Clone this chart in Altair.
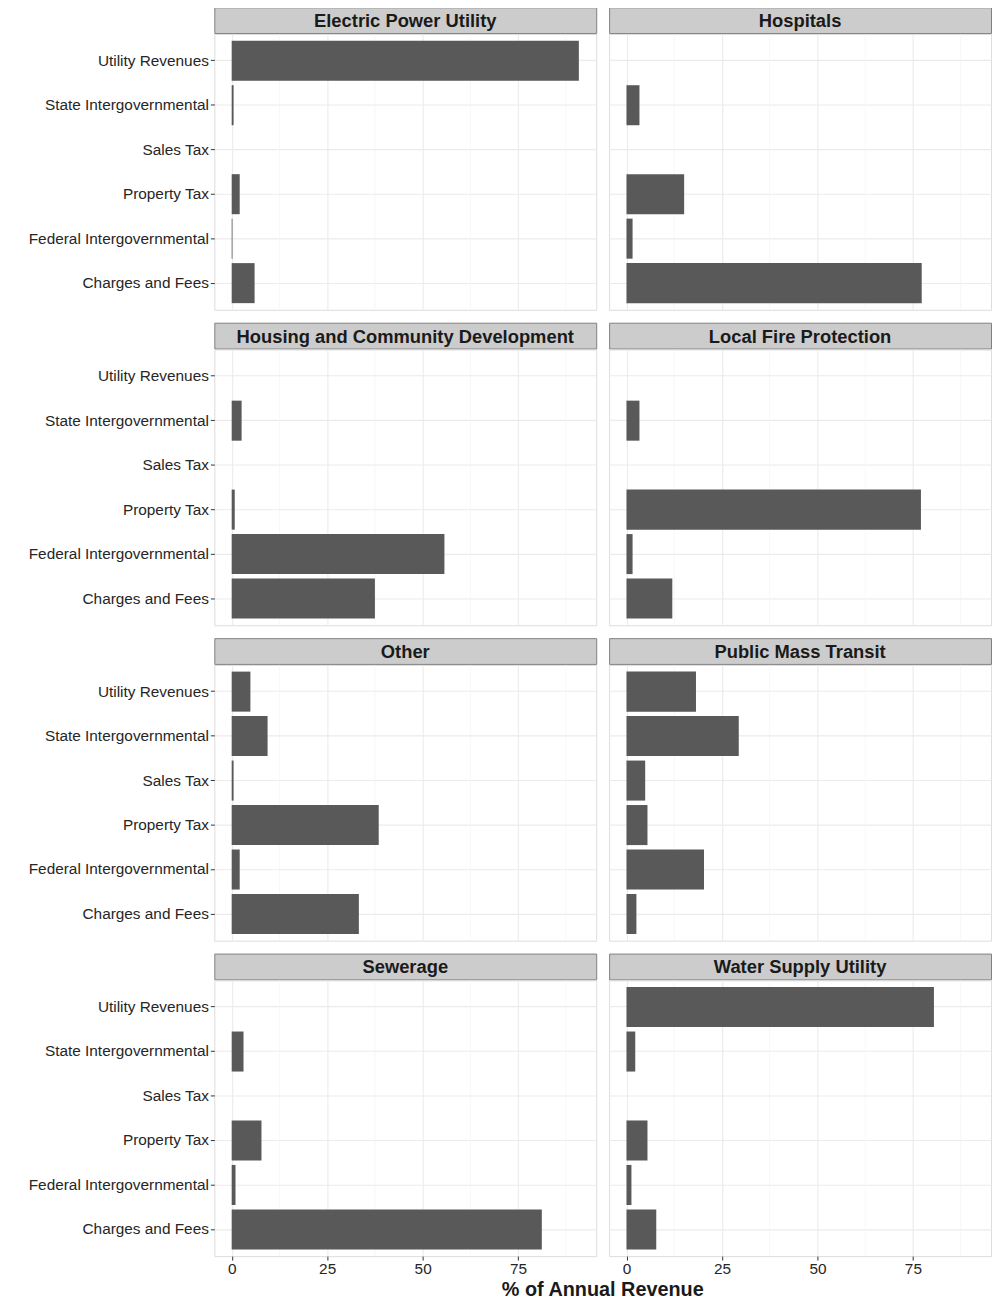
import altair as alt
import pandas as pd

FONT = "Liberation Sans"

services = ["Electric Power Utility", "Hospitals",
            "Housing and Community Development", "Local Fire Protection",
            "Other", "Public Mass Transit",
            "Sewerage", "Water Supply Utility"]
sources = ["Utility Revenues", "State Intergovernmental", "Sales Tax",
           "Property Tax", "Federal Intergovernmental", "Charges and Fees"]

electric = [90.9, 0.5, 0.0, 2.1, 0.2, 6.0]
hospitals = [0.0, 3.4, 0.0, 15.1, 1.6, 77.3]
housing = [0.0, 2.6, 0.0, 0.8, 55.7, 37.5]
fire = [0.0, 3.4, 0.0, 77.1, 1.6, 12.0]
other = [4.9, 9.4, 0.5, 38.5, 2.1, 33.3]
transit = [18.2, 29.4, 4.9, 5.5, 20.3, 2.6]
sewerage = [0.0, 3.1, 0.0, 7.8, 1.0, 81.2]
water = [80.5, 2.3, 0.0, 5.5, 1.3, 7.8]

series = [electric, hospitals, housing, fire, other, transit, sewerage, water]

major_breaks = [0, 25, 50, 75]
minor_breaks = [12.5, 37.5, 62.5, 87.5]

xmax = max(max(s) for s in series)
xscale = alt.Scale(domain=[-0.05 * xmax, 1.05 * xmax], nice=False, zero=False)

PW, PH, SH = 385, 278, 26


def panel(name, vals, first_col, last_row):
    df = pd.DataFrame({"source": sources, "value": vals})
    x_axis = alt.Axis(values=major_breaks, grid=True, gridColor="#EBEBEB",
                      gridWidth=1.1, labels=last_row, ticks=last_row,
                      domain=False, title=None, tickColor="#333333",
                      tickSize=4, labelFontSize=15.5, labelColor="#262626",
                      labelPadding=2, labelFont=FONT)
    if first_col:
        y_axis = alt.Axis(grid=True, gridColor="#EBEBEB", gridWidth=1.1,
                          bandPosition=0.5, domain=False, title=None,
                          tickColor="#333333", tickSize=4, labelFontSize=15.5,
                          labelColor="#262626", labelPadding=2, labelFont=FONT,
                          labelLimit=400)
    else:
        y_axis = alt.Axis(grid=True, gridColor="#EBEBEB", gridWidth=1.1,
                          bandPosition=0.5, domain=False, title=None,
                          labels=False, ticks=False)
    bars = alt.Chart(df).mark_bar(color="#595959").encode(
        x=alt.X("value:Q", scale=xscale, axis=x_axis),
        x2=alt.datum(0),
        y=alt.Y("source:N", sort=sources,
                scale=alt.Scale(paddingInner=0.1, paddingOuter=0.15),
                axis=y_axis),
    )
    minor = alt.Chart(pd.DataFrame({"m": minor_breaks})).mark_rule(
        color="#F4F4F4", strokeWidth=0.7
    ).encode(x=alt.X("m:Q", scale=xscale))
    body = alt.layer(minor, bars).properties(width=PW, height=PH)
    strip = alt.Chart(pd.DataFrame({"t": [name]})).mark_text(
        fontSize=18.5, fontWeight="bold", font=FONT, color="#1A1A1A",
        baseline="middle", align="center"
    ).encode(
        text="t:N", x=alt.value(PW / 2), y=alt.value(SH / 2 + 1)
    ).properties(width=PW, height=SH,
                 view=alt.ViewBackground(fill="#CCCCCC", stroke="#7F7F7F"))
    return alt.vconcat(strip, body, spacing=-2)


cells = []
for i, (name, vals) in enumerate(zip(services, series)):
    cells.append(panel(name, vals, i % 2 == 0, i >= 6))

chart = alt.concat(*cells, columns=2, spacing=11).properties(
    padding={"left": 19, "top": -7, "right": 0, "bottom": 0},
    title=alt.TitleParams("% of Annual Revenue", orient="bottom",
                          anchor="middle", fontSize=20, fontWeight="bold",
                          font=FONT, color="#1A1A1A", offset=2, dx=94),
).configure_view(stroke="#7F7F7F", strokeWidth=1).configure(background="white")

chart.save("out.html", embed_options={"renderer": "svg", "actions": False})
